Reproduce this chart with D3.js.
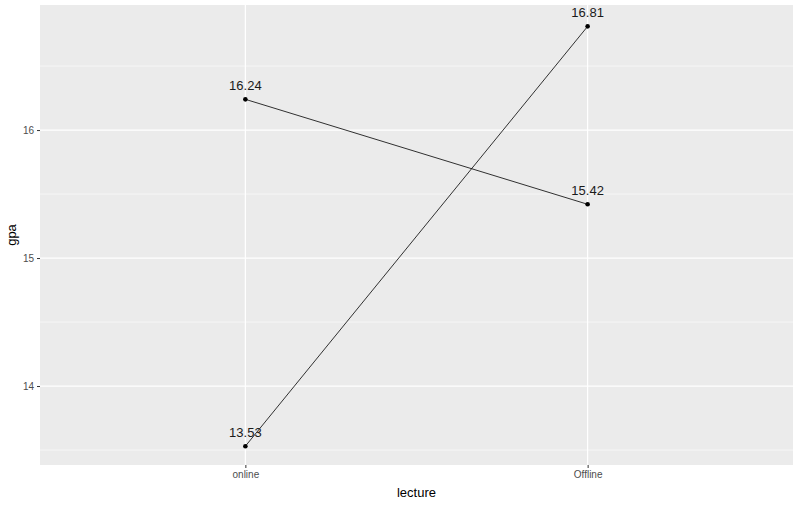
<!DOCTYPE html>
<html><head><meta charset="utf-8">
<script src="https://cdn.jsdelivr.net/npm/d3@7"></script>
<style>body{margin:0;background:#fff}text{font-family:"Liberation Sans",Arial,sans-serif}</style>
</head><body><div id="chart"></div>
<script>
var categories = ["online", "Offline"];
var seriesA = [16.24, 15.42];
var seriesB = [13.53, 16.81];
var yTicks = [14, 15, 16];
var yMinor = [13.5, 14.5, 15.5, 16.5];

var W = 800, H = 505;
var m = {left: 40, right: 7, top: 5, bottom: 40};
var svg = d3.select("#chart").append("svg").attr("width", W).attr("height", H);

var x = d3.scalePoint().domain(categories)
  .range([m.left, W - m.right]).padding(0.6);
var y = d3.scaleLinear().domain([13.383, 16.977])
  .range([H - m.bottom, m.top]);

svg.append("rect").attr("x", m.left).attr("y", m.top)
  .attr("width", W - m.left - m.right).attr("height", H - m.top - m.bottom)
  .style("fill", "#ebebeb");

svg.selectAll(".minor").data(yMinor).enter().append("line")
  .attr("x1", m.left).attr("x2", W - m.right)
  .attr("y1", function(d) { return y(d); }).attr("y2", function(d) { return y(d); })
  .style("stroke", "#fff").style("stroke-width", 0.6);
svg.selectAll(".major").data(yTicks).enter().append("line")
  .attr("x1", m.left).attr("x2", W - m.right)
  .attr("y1", function(d) { return y(d); }).attr("y2", function(d) { return y(d); })
  .style("stroke", "#fff").style("stroke-width", 1.2);
svg.selectAll(".vmajor").data(categories).enter().append("line")
  .attr("y1", m.top).attr("y2", H - m.bottom)
  .attr("x1", function(d) { return x(d); }).attr("x2", function(d) { return x(d); })
  .style("stroke", "#fff").style("stroke-width", 1.2);

var line = d3.line().x(function(d, i) { return x(categories[i]); }).y(function(d) { return y(d); });
[seriesA, seriesB].forEach(function(s) {
  svg.append("path").attr("d", line(s)).style("fill", "none").style("stroke", "#000").style("stroke-width", 0.8);
  s.forEach(function(v, i) {
    svg.append("circle").attr("cx", x(categories[i])).attr("cy", y(v)).attr("r", 2.3).style("fill", "#000");
    svg.append("text").attr("x", x(categories[i])).attr("y", y(v) - 9)
      .attr("text-anchor", "middle").style("font-size", "13px").style("fill", "#1a1a1a")
      .text(v.toFixed(2));
  });
});

var xa = svg.append("g").attr("transform", "translate(0," + (H - m.bottom) + ")")
  .call(d3.axisBottom(x).tickSize(3).tickPadding(3));
var ya = svg.append("g").attr("transform", "translate(" + m.left + ",0)")
  .call(d3.axisLeft(y).tickValues(yTicks).tickFormat(d3.format("d")).tickSize(3).tickPadding(3));
[xa, ya].forEach(function(a) {
  a.select(".domain").remove();
  a.selectAll("line").style("stroke", "#333");
  a.selectAll("text").style("fill", "#4d4d4d").style("font-size", "10px")
    .style("font-family", '"Liberation Sans",Arial,sans-serif');
});

svg.append("text").attr("x", (m.left + W - m.right) / 2).attr("y", H - 8)
  .attr("text-anchor", "middle").style("font-size", "13px").text("lecture");
svg.append("text").attr("transform", "translate(16," + ((m.top + H - m.bottom) / 2) + ") rotate(-90)")
  .attr("text-anchor", "middle").style("font-size", "13px").text("gpa");
</script></body></html>
